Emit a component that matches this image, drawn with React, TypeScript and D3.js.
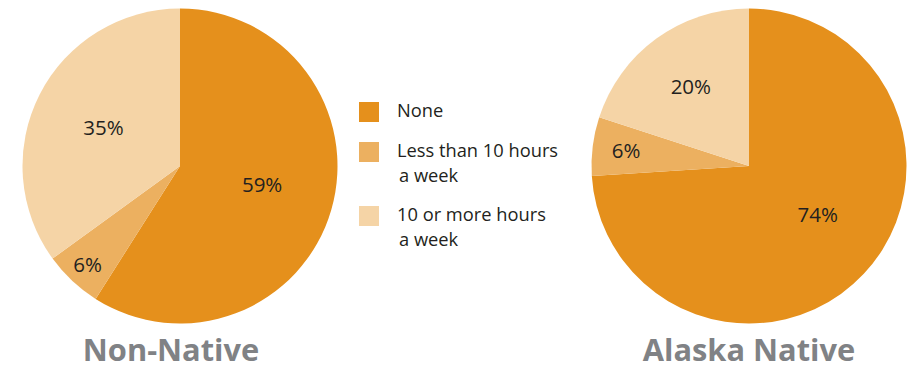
import React from "react";
import * as d3 from "d3";

const categories = ["None", "Less than 10 hours a week", "10 or more hours a week"];
const legendLines = [["None"], ["Less than 10 hours", "a week"], ["10 or more hours", "a week"]];
const nonNativeValues = [59, 6, 35];
const alaskaNativeValues = [74, 6, 20];
const chartTitles = ["Non-Native", "Alaska Native"];

const COLORS = ["#E5901C", "#ECB060", "#F5D4A6"];
const FONT = "'Open Sans', 'Noto Sans', sans-serif";

const W = 909;
const H = 370;
const R = 157.5;

type PieProps = { cx: number; cy: number; values: number[]; title: string; titleDx: number; labelR: number[]; labelDa: number[] };

function Pie({ cx, cy, values, title, titleDx, labelR, labelDa }: PieProps) {
  const pie = d3.pie<number>().sort(null).value((d) => d);
  const arcs = pie(values);
  const arc = d3.arc<d3.PieArcDatum<number>>().innerRadius(0).outerRadius(R);
  return (
    <g>
      <g transform={`translate(${cx},${cy})`}>
        {arcs.map((a, i) => (
          <path key={i} d={arc(a) || ""} fill={COLORS[i]} />
        ))}
        {arcs.map((a, i) => {
          const mid = (a.startAngle + a.endAngle) / 2 + labelDa[i];
          const r = labelR[i];
          const x = Math.sin(mid) * r;
          const y = -Math.cos(mid) * r;
          return (
            <text key={"t" + i} x={x} y={y} textAnchor="middle" dominantBaseline="central"
              fontFamily={FONT} fontSize={20.5} fill="#231F20">
              {`${values[i]}%`}
            </text>
          );
        })}
      </g>
      <text x={cx + titleDx} y={361} textAnchor="middle" fontFamily={FONT} fontWeight={700}
        fontSize={30.8} fill="#808285">{title}</text>
    </g>
  );
}

export default function App() {
  return (
    <svg width={W} height={H} style={{ position: "absolute", left: 0, top: 0, background: "#fff" }}>
      <Pie cx={180} cy={166} values={nonNativeValues} title={chartTitles[0]} titleDx={-9}
        labelR={[84, 135, 86]} labelDa={[-0.07, 0, 0]} />
      <Pie cx={749} cy={166} values={alaskaNativeValues} title={chartTitles[1]} titleDx={0}
        labelR={[84, 124, 99]} labelDa={[-0.14, 0, 0]} />
      <g>
        {categories.map((c, i) => {
          const top = [102, 142, 206][i];
          return (
            <g key={c}>
              <rect x={359} y={top} width={20} height={20} fill={COLORS[i]} />
              {legendLines[i].map((ln, j) => (
                <text key={j} x={j === 0 ? 397 : 399} y={top + 15 + j * 25} fontFamily={FONT}
                  fontSize={18.3} fill="#231F20">{ln}</text>
              ))}
            </g>
          );
        })}
      </g>
    </svg>
  );
}
